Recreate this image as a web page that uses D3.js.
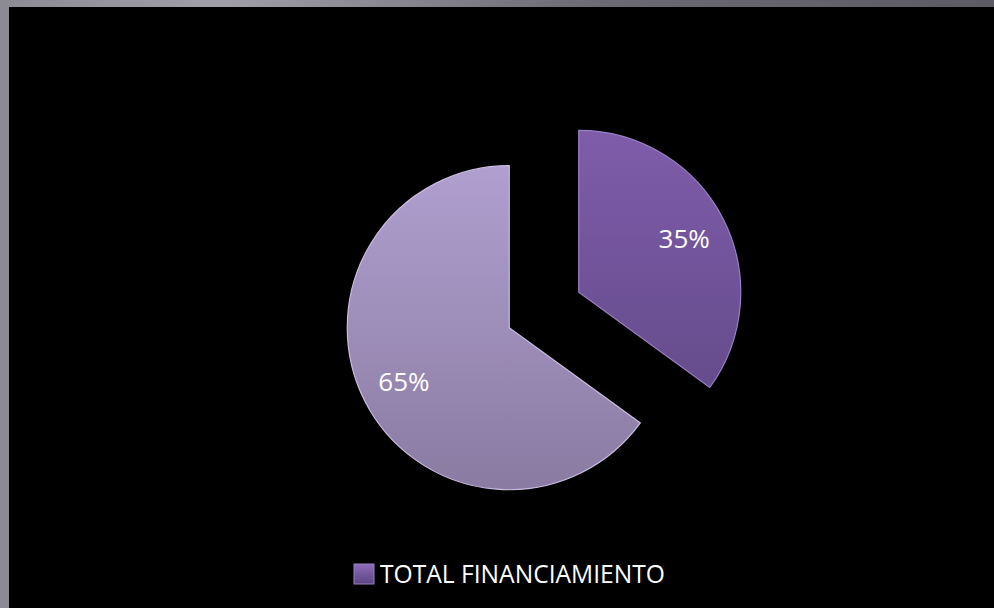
<!DOCTYPE html>
<html>
<head>
<meta charset="utf-8">
<script src="https://cdn.jsdelivr.net/npm/d3@7"></script>
<style>
  body { margin: 0; background: #000; }
  svg { display: block; }
</style>
</head>
<body>
<div id="chart"></div>
<script>
// data
var categories = ["TOTAL FINANCIAMIENTO", "OTROS"];
var values = [35, 65];
var labels = ["35%", "65%"];
var legendNames = ["TOTAL FINANCIAMIENTO"];

var width = 994, height = 608;
var cx = 544, cy = 310, radius = 162, explode = 39;

var svg = d3.select("#chart").append("svg")
    .attr("width", width)
    .attr("height", height);

var defs = svg.append("defs");

// frame gradient
var fg = defs.append("linearGradient").attr("id", "frame")
    .attr("x1", "0%").attr("y1", "0%").attr("x2", "100%").attr("y2", "0%");
fg.append("stop").attr("offset", "0%").attr("stop-color", "#8c8a92");
fg.append("stop").attr("offset", "22%").attr("stop-color", "#a09ea6");
fg.append("stop").attr("offset", "60%").attr("stop-color", "#6c6a72");
fg.append("stop").attr("offset", "100%").attr("stop-color", "#5c5b63");

svg.append("rect").attr("width", width).attr("height", height).attr("fill", "url(#frame)");
svg.append("rect").attr("x", 9).attr("y", 7).attr("width", width - 9).attr("height", height - 7).attr("fill", "#000");

// slice gradients
var sliceColors = [["#7e5caa", "#5f4884"], ["#b09fcf", "#8a7ba2"]];
sliceColors.forEach(function (c, i) {
    var g = defs.append("linearGradient").attr("id", "slice" + i)
        .attr("gradientUnits", "userSpaceOnUse")
        .attr("x1", 0).attr("y1", -radius).attr("x2", 0).attr("y2", radius);
    g.append("stop").attr("offset", "0%").attr("stop-color", c[0]);
    g.append("stop").attr("offset", "100%").attr("stop-color", c[1]);
});
var lg = defs.append("linearGradient").attr("id", "legendBox")
    .attr("x1", "0%").attr("y1", "0%").attr("x2", "0%").attr("y2", "100%");
lg.append("stop").attr("offset", "0%").attr("stop-color", "#8e6cbc");
lg.append("stop").attr("offset", "100%").attr("stop-color", "#5a4580");

var pie = d3.pie().sort(null).value(function (d) { return d; });
var arcs = pie(values);

var arc = d3.arc().innerRadius(0).outerRadius(radius);
var labelArc = d3.arc().innerRadius(radius * 0.73).outerRadius(radius * 0.73);

var g = svg.append("g").attr("transform", "translate(" + cx + "," + cy + ")");

var slice = g.selectAll(".slice")
    .data(arcs)
    .enter().append("g")
    .attr("class", "slice")
    .attr("transform", function (d) {
        var a = (d.startAngle + d.endAngle) / 2;
        return "translate(" + (Math.sin(a) * explode) + "," + (-Math.cos(a) * explode) + ")";
    });

slice.append("path")
    .attr("d", arc)
    .attr("fill", function (d, i) { return "url(#slice" + i + ")"; })
    .attr("stroke", function (d, i) { return i == 0 ? "#9a80c4" : "#c9bce0"; })
    .attr("stroke-width", 1.2);

slice.append("text")
    .attr("transform", function (d) { return "translate(" + labelArc.centroid(d) + ")"; })
    .attr("text-anchor", "middle")
    .attr("dy", "0.36em")
    .style("font-family", "'Open Sans', sans-serif")
    .style("font-size", "26px")
    .style("fill", "#fff")
    .text(function (d, i) { return labels[i]; });

// legend
var legend = svg.append("g").attr("transform", "translate(354,564)");
legend.append("rect")
    .attr("width", 20).attr("height", 20)
    .attr("fill", "url(#legendBox)")
    .attr("stroke", "#9a80c4");
legend.append("text")
    .attr("x", 26).attr("y", 10)
    .attr("dy", "0.36em")
    .attr("textLength", 285)
    .attr("lengthAdjust", "spacingAndGlyphs")
    .style("font-family", "'Open Sans', sans-serif")
    .style("font-size", "26px")
    .style("fill", "#fff")
    .text(legendNames[0]);
</script>
</body>
</html>
